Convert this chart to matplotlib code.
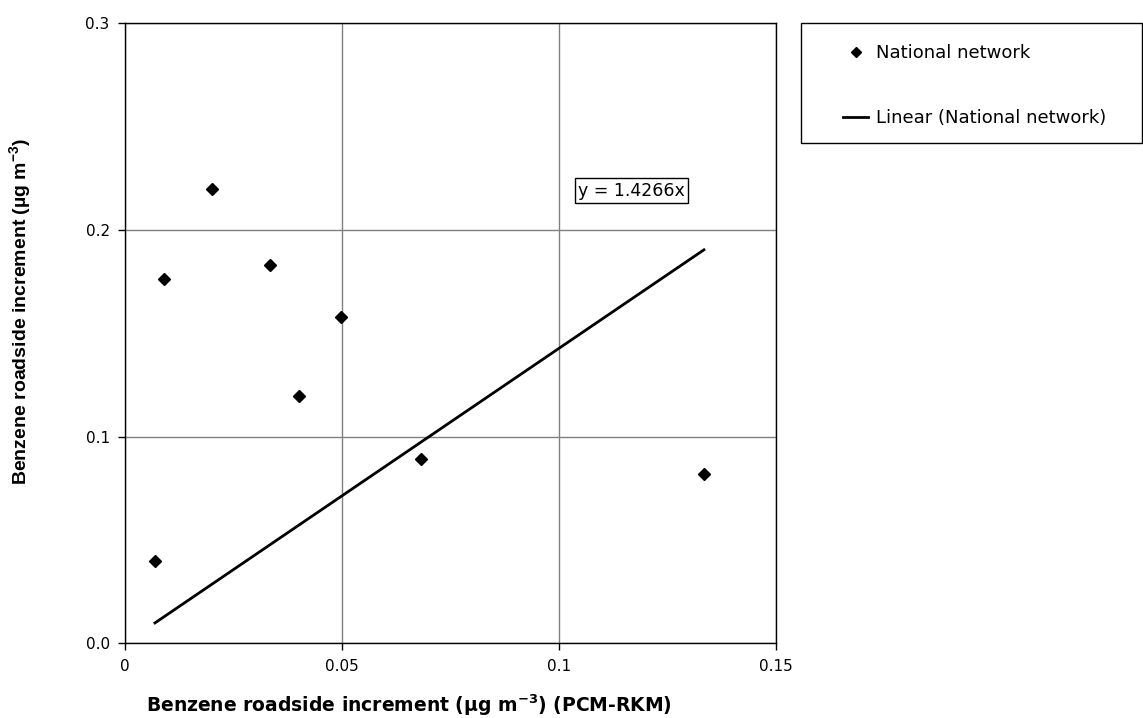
import matplotlib
matplotlib.use("Agg")
import matplotlib.pyplot as plt
from matplotlib.patches import Rectangle
from matplotlib.lines import Line2D
import numpy as np

plt.rcParams['font.family'] = ['DejaVu Sans']

# Data
x_vals = [0.0201, 0.0090, 0.0333, 0.0498, 0.0401, 0.0069, 0.0682, 0.1334]
y_vals = [0.2198, 0.1760, 0.1832, 0.1579, 0.1195, 0.0397, 0.0890, 0.0821]
slope = 1.4266
x_ticks = [0, 0.05, 0.1, 0.15]
x_tick_labels = ["0", "0.05", "0.1", "0.15"]
y_ticks = [0.0, 0.1, 0.2, 0.3]
y_tick_labels = ["0.0", "0.1", "0.2", "0.3"]

W, H = 1143, 718
fig = plt.figure(figsize=(W/100, H/100), dpi=100)
ax = fig.add_axes([125/W, 1-643.3/H, (776-125)/W, (643.3-23)/H])

ax.set_xlim(0, 0.15)
ax.set_ylim(0, 0.3)
ax.set_xticks(x_ticks)
ax.set_xticklabels(x_tick_labels)
ax.set_yticks(y_ticks)
ax.set_yticklabels(y_tick_labels)
ax.grid(True, color='#808080', linewidth=1.0)
ax.set_axisbelow(True)
for s in ax.spines.values():
    s.set_color('black')
    s.set_linewidth(1.0)
ax.tick_params(direction='out', length=5, width=1, labelsize=11, colors='black', pad=6)

xs = np.array([min(x_vals), max(x_vals)])
ax.plot(xs, slope*xs, color='black', linewidth=2.0, zorder=3)
ax.plot(x_vals, y_vals, linestyle='none', marker='D', markersize=6.5,
        color='black', zorder=4)

ax.text(0.1167, 0.2188, "y = 1.4266x", ha='center', va='center', fontsize=12.5,
        bbox=dict(boxstyle='square,pad=0.2', facecolor='white', edgecolor='black', linewidth=1.0))

ax.set_xlabel("Benzene roadside increment (µg m$^{\\mathregular{-3}}$) (PCM-RKM)",
              fontsize=13.5, fontweight='bold', ha='left', va='baseline')
ax.set_ylabel("Benzene roadside increment (µg m$^{\\mathregular{-3}}$)",
              fontsize=14, fontweight='bold', family=['Liberation Sans', 'DejaVu Sans'])
ax.xaxis.set_label_coords((146-125)/(776-125), -(712-643.3)/(643.3-23))
ax.yaxis.set_label_coords(-(125-34)/(776-125), (643.3-311)/(643.3-23))

# legend box
fig.patches.append(Rectangle((801/W, 1-143/H), (1142-801)/W, (143-23)/H,
                             transform=fig.transFigure, facecolor='white',
                             edgecolor='black', linewidth=1.0))
handles = [Line2D([], [], linestyle='none', marker='D', markersize=5.5, color='black'),
           Line2D([], [], color='black', linewidth=2.0)]
fig.legend(handles, ["National network", "Linear (National network)"],
           loc='upper left', bbox_to_anchor=(843/W, 1-44/H), frameon=False,
           fontsize=13, borderpad=0, borderaxespad=0, handlelength=1.39,
           handletextpad=0.44, labelspacing=2.62)

fig.savefig("out.png", dpi=100)
